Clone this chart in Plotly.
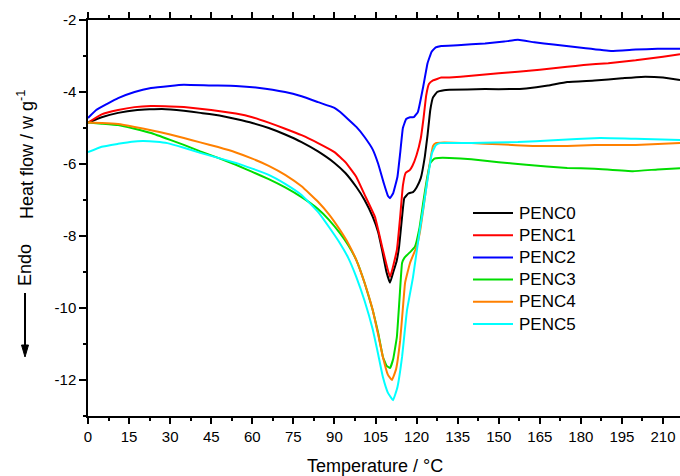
import plotly.graph_objects as go

# PENC0 (black)
T0 = [0, 5, 11, 18, 27, 35, 41, 48, 54, 60, 66, 72, 78, 84, 90, 94, 98, 101, 104, 106, 107.4, 109, 110.3,
      111.5, 112.7, 113.6, 114.7, 115.5, 117, 118.7, 120, 121.5, 123, 124, 125, 126, 127.5, 130, 132,
      145, 155, 160, 168, 175, 185, 195, 202, 210, 216.2]
H0 = [-4.85, -4.7, -4.58, -4.5, -4.47, -4.52, -4.58, -4.65, -4.75, -4.86, -5.0, -5.18, -5.39, -5.65, -5.97,
      -6.25, -6.64, -7.0, -7.47, -7.9, -8.39, -9.0, -9.3,
      -9.0, -8.7, -8.3, -7.47, -6.95, -6.82, -6.78, -6.65, -6.4, -5.8, -5.2, -4.5, -4.15, -4.0, -3.95, -3.94,
      -3.92, -3.92, -3.9, -3.82, -3.72, -3.68, -3.62, -3.58, -3.6, -3.67]

# PENC1 (red)
T1 = [0, 5, 11, 17, 23, 30, 35, 45, 54, 60, 66, 72, 78, 84, 90, 94, 98, 101, 104.8, 107.7, 110.3,
      112.8, 114, 115, 116, 117.5, 118.5, 120, 121.5, 122.5, 123.5, 124.5, 126, 129, 132,
      140, 150, 157, 165, 175, 181, 190, 200, 210, 216.2]
H1 = [-4.85, -4.62, -4.5, -4.42, -4.39, -4.4, -4.42, -4.5, -4.6, -4.7, -4.85, -5.02, -5.2, -5.42, -5.67,
      -5.95, -6.36, -6.85, -7.47, -8.39, -9.14,
      -8.39, -7.47, -6.6, -6.25, -6.17, -6.05, -5.75, -5.3, -4.75, -4.1, -3.78, -3.68, -3.6, -3.6,
      -3.55, -3.48, -3.44, -3.38, -3.3, -3.25, -3.2, -3.12, -3.02, -2.95]

# PENC2 (blue)
T2 = [0, 3, 7, 11, 17, 23, 30, 35, 45, 54, 62, 72, 78, 84, 90, 92, 98, 101, 104, 106, 108, 109.5, 110.3,
      111.5, 113, 114, 115, 116.2, 117.6, 119, 120.5, 122.4, 124, 125.5, 127, 129, 135, 145, 152, 157,
      163, 170, 181, 191, 200, 208, 216.2]
H2 = [-4.72, -4.5, -4.33, -4.17, -4.0, -3.89, -3.83, -3.8, -3.82, -3.83, -3.88, -4.0, -4.12, -4.28, -4.44,
      -4.55, -4.97, -5.25, -5.6, -6.0, -6.53, -6.88, -6.95,
      -6.8, -6.36, -5.7, -5.0, -4.75, -4.7, -4.7, -4.55, -3.86, -3.2, -2.88, -2.76, -2.72, -2.7, -2.65,
      -2.6, -2.55, -2.62, -2.68, -2.78, -2.86, -2.82, -2.8, -2.8]

# PENC3 (green)
T3 = [0, 5, 11, 17, 23, 30, 35, 41, 47.5, 54, 60, 66, 72, 78, 84, 88, 92, 95, 98, 101, 104, 106, 107.7,
      109, 110.3, 111.5, 112.8, 113.8, 114.7, 115.6, 116.5, 118, 119.4, 121, 122.4, 123.8, 125, 126.5,
      128, 132, 140, 150, 160, 175, 185, 199, 208, 216.2]
H3 = [-4.85, -4.88, -4.92, -5.02, -5.14, -5.33, -5.47, -5.65, -5.83, -6.02, -6.22, -6.42, -6.65, -6.92,
      -7.25, -7.55, -7.92, -8.25, -8.67, -9.3, -10.06, -10.7, -11.36,
      -11.6, -11.67, -11.4, -10.8, -9.7, -8.75, -8.6, -8.53, -8.42, -8.3, -7.8, -7.08, -6.4, -5.97, -5.85,
      -5.83, -5.83, -5.87, -5.95, -6.02, -6.11, -6.13, -6.2, -6.15, -6.12]

# PENC4 (orange)
T4 = [0, 5, 11, 17, 23, 30, 35, 41, 47.5, 54, 60, 66, 72, 78, 84, 88, 92, 95, 98, 101, 104, 106, 107.7,
      109.5, 111, 112.5, 114, 115, 115.8, 117.6, 120, 121.2, 122.4, 123.8, 125, 126, 127, 130, 140,
      150, 162.5, 175, 185, 200, 216.2]
H4 = [-4.85, -4.86, -4.89, -4.97, -5.06, -5.18, -5.28, -5.4, -5.53, -5.68, -5.85, -6.05, -6.3, -6.62,
      -7.05, -7.4, -7.83, -8.2, -8.67, -9.3, -10.06, -10.75, -11.36,
      -11.85, -12.0, -11.7, -10.9, -10.0, -9.3, -8.75, -8.3, -7.9, -7.28, -6.5, -5.89, -5.5, -5.42, -5.4,
      -5.42, -5.45, -5.5, -5.5, -5.47, -5.47, -5.42]

# PENC5 (cyan)
T5 = [0, 5, 11, 16, 20, 25, 29, 35, 41, 47.5, 54, 60, 66, 72, 78, 84, 88, 92, 95, 98, 101, 104, 106,
      107.7, 109.5, 111.4, 113, 114.7, 115.6, 116.5, 118.7, 121, 122.5, 123.8, 125.6, 127, 128.6, 140,
      157, 170, 187, 200, 216.2]
H5 = [-5.67, -5.52, -5.44, -5.38, -5.36, -5.38, -5.42, -5.55, -5.69, -5.83, -5.97, -6.13, -6.3, -6.55,
      -6.86, -7.33, -7.75, -8.2, -8.6, -9.14, -9.8, -10.6, -11.3,
      -11.92, -12.35, -12.56, -12.2, -11.36, -10.7, -10.06, -9.14, -7.92, -7.2, -6.53, -5.7, -5.48, -5.42,
      -5.42, -5.39, -5.34, -5.28, -5.3, -5.33]

names = ["PENC0", "PENC1", "PENC2", "PENC3", "PENC4", "PENC5"]
colors = ["#000000", "#ff0000", "#0000ff", "#00dd00", "#ff8000", "#00ffff"]
series = [(T0, H0), (T1, H1), (T2, H2), (T3, H3), (T4, H4), (T5, H5)]

x_ticks = list(range(0, 211, 15))
y_ticks = [-12, -10, -8, -6, -4, -2]

FONT = "Liberation Sans, Arial, sans-serif"
L, T, B, W, H = 88, 20, 60, 680, 476
PW, PH = W - L, H - T - B


def px(xp):
    return (xp - L) / PW


def py(yp):
    return (H - B - yp) / PH


fig = go.Figure()
for (t, h), n, c in zip(series, names, colors):
    fig.add_trace(go.Scatter(x=t, y=h, mode="lines", name=n, showlegend=False,
                             line=dict(color=c, width=2, shape="spline", smoothing=0.3)))

# legend drawn as line samples + labels (row spacing as in the reference)
for i, (n, c) in enumerate(zip(names, colors)):
    yr = 213 + 22.2 * i
    fig.add_shape(type="line", xref="paper", yref="paper",
                  x0=px(473), x1=px(513), y0=py(yr), y1=py(yr),
                  line=dict(color=c, width=2))
    fig.add_annotation(text=n, xref="paper", yref="paper", x=px(517), y=py(yr),
                       xanchor="left", yanchor="middle", showarrow=False,
                       font=dict(family=FONT, size=17, color="black"))

fig.update_layout(
    width=W, height=H,
    margin=dict(l=L, r=0, t=T, b=B),
    paper_bgcolor="white", plot_bgcolor="white",
    font=dict(family=FONT, size=15, color="black"),
    showlegend=False,
    xaxis=dict(range=[0, 216.2], tickmode="array", tickvals=x_ticks,
               ticktext=[str(v) for v in x_ticks], automargin=False,
               showgrid=False, zeroline=False, showline=True, linecolor="black", linewidth=1.5,
               mirror="ticks", ticks="outside", ticklen=6, tickwidth=1.5, tickcolor="black",
               tickfont=dict(size=15),
               minor=dict(dtick=7.5, tick0=0, ticks="outside", ticklen=3, tickwidth=1.5, tickcolor="black")),
    yaxis=dict(range=[-13, -2], tickmode="array", tickvals=y_ticks,
               ticktext=["-12", "-10", "-8", "-6", "-4", "-2"], automargin=False,
               showgrid=False, zeroline=False, showline=True, linecolor="black", linewidth=1.5,
               ticks="outside", ticklen=7, tickwidth=1.5, tickcolor="black",
               tickfont=dict(size=15),
               minor=dict(dtick=1, tick0=0, ticks="outside", ticklen=3, tickwidth=1.5, tickcolor="black")),
)

# x title
fig.add_annotation(text="Temperature / °C", xref="paper", yref="paper",
                   x=px(375), y=py(466), xanchor="center", yanchor="middle", showarrow=False,
                   font=dict(family=FONT, size=18, color="black"))
# rotated y title, "Endo" label
fig.add_annotation(text="Heat flow / w g<sup>-1</sup>", xref="paper", yref="paper",
                   x=px(25), y=py(155), xanchor="center", yanchor="middle",
                   textangle=-90, showarrow=False,
                   font=dict(family=FONT, size=18, color="black"))
fig.add_annotation(text="Endo", xref="paper", yref="paper",
                   x=px(25), y=py(265), xanchor="center", yanchor="middle",
                   textangle=-90, showarrow=False,
                   font=dict(family=FONT, size=18, color="black"))
# downward arrow
fig.add_shape(type="line", xref="paper", yref="paper",
              x0=px(25), x1=px(25), y0=py(293), y1=py(347),
              line=dict(color="black", width=2))
fig.add_shape(type="path", xref="paper", yref="paper",
              path=f"M {px(21.5)} {py(345)} L {px(28.5)} {py(345)} L {px(25)} {py(357)} Z",
              fillcolor="black", line=dict(color="black", width=1))

fig.write_html("out.html", config={"displayModeBar": False},
               post_script="document.body.style.margin='0px';")
